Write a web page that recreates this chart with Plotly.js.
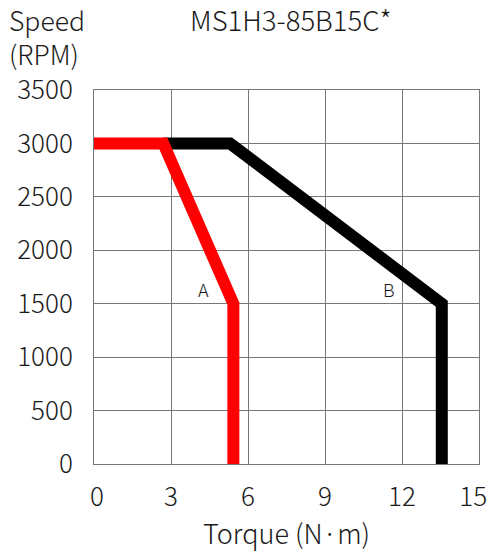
<!DOCTYPE html>
<html><head><meta charset="utf-8">
<script src="https://cdn.plot.ly/plotly-3.0.1.min.js"></script>
<style>html,body{margin:0;padding:0;background:#fff}</style>
</head><body><div id="chart" style="width:491px;height:558px"></div>
<script>
const curveA_torque = [0, 2.7, 5.43, 5.43];
const curveA_speed  = [3000, 3000, 1500, 0];
const curveB_torque = [2.7, 5.3, 13.55, 13.55];
const curveB_speed  = [3000, 3000, 1500, 0];
const labelNames = ['A', 'B'];
const labelTorque = [4.27, 11.5];
const labelSpeed = [1640, 1640];
const xTicks = [0, 3, 6, 9, 12, 15];
const xTickText = ['\u00a00', '3', '6', '9', '12', '15\u00a0\u00a0'];
const yTicks = [0, 500, 1000, 1500, 2000, 2500, 3000, 3500];

const FONT = '"Noto Sans CJK JP", "Noto Sans", sans-serif';
const W = 300;
const INK = '#1a1a1a';
const traces = [
  {x: curveB_torque, y: curveB_speed, mode: 'lines', line: {color: '#000', width: 12}, hoverinfo: 'skip'},
  {x: curveA_torque, y: curveA_speed, mode: 'lines', line: {color: '#ff0000', width: 12}, hoverinfo: 'skip'}
];
const ann = labelNames.map((t, i) => ({x: labelTorque[i], y: labelSpeed[i], text: t, showarrow: false,
  font: {family: FONT, size: 18, color: INK, weight: W}}));
ann.push({xref: 'paper', yref: 'paper', x: -0.225, y: 1.245, xanchor: 'left', yanchor: 'top',
  text: 'Speed<br>(RPM)', align: 'left', showarrow: false, font: {family: FONT, size: 26.5, color: INK, weight: W}});
ann.push({xref: 'paper', yref: 'paper', x: 0.512, y: 1.25, xanchor: 'center', yanchor: 'top',
  text: 'MS1H3-85B15C*', showarrow: false, font: {family: FONT, size: 27.5, color: INK, weight: W}});
const layout = {
  width: 491, height: 558,
  margin: {l: 94, r: 12, t: 90, b: 94},
  paper_bgcolor: '#fff', plot_bgcolor: '#fff',
  showlegend: false,
  font: {family: FONT, color: INK, weight: W},
  xaxis: {range: [0, 15], tickvals: xTicks, ticktext: xTickText, showgrid: true, gridcolor: '#777', gridwidth: 1,
    zeroline: false, showline: true, linecolor: '#777', linewidth: 1, mirror: true, ticks: '',
    ticklabeloverflow: 'allow',
    tickfont: {family: FONT, size: 26, color: INK, weight: W}, ticklabelstandoff: 10,
    title: {text: 'Torque (N·m)', font: {family: FONT, size: 27, color: INK, weight: W}, standoff: 8}},
  yaxis: {range: [0, 3500], tickvals: yTicks, ticktext: yTicks.map(String), showgrid: true, gridcolor: '#777', gridwidth: 1,
    zeroline: false, showline: true, linecolor: '#777', linewidth: 1, mirror: true, ticks: '',
    tickfont: {family: FONT, size: 26, color: INK, weight: W}, ticklabelstandoff: 15},
  annotations: ann
};
Plotly.newPlot('chart', traces, layout, {staticPlot: true, displayModeBar: false});
</script></body></html>
